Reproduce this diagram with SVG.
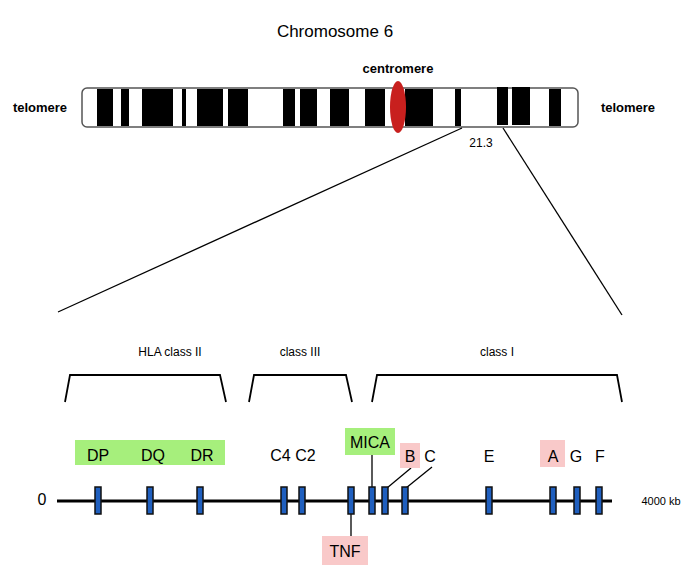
<svg xmlns="http://www.w3.org/2000/svg" width="700" height="582" viewBox="0 0 700 582">
<style>
text{font-family:"Liberation Sans",Arial,sans-serif;fill:#000}
.band{fill:#000}
.gene{fill:#1f5fbf;stroke:#111;stroke-width:1.5}
.ln{stroke:#000;stroke-width:1.3;fill:none}
.br{stroke:#000;stroke-width:1.8;fill:none}
.axis{stroke:#000;stroke-width:3}
.g{fill:#a6ef7c}.p{fill:#f9c9c9}
</style>
<rect width="700" height="582" fill="#fff"/>
<text x="335" y="37" font-size="17" text-anchor="middle">Chromosome 6</text>
<g id="chromosome">
<rect x="82" y="88" width="496" height="39" rx="5" fill="#fff" stroke="#555" stroke-width="1.5"/>
<rect class="band" x="97" y="89" width="16" height="37"/>
<rect class="band" x="121" y="89" width="8" height="37"/>
<rect class="band" x="142" y="89" width="31" height="37"/>
<rect class="band" x="182" y="89" width="4" height="37"/>
<rect class="band" x="197" y="89" width="26" height="37"/>
<rect class="band" x="228" y="89" width="20" height="37"/>
<rect class="band" x="283" y="89" width="12" height="37"/>
<rect class="band" x="300" y="89" width="17" height="37"/>
<rect class="band" x="330" y="89" width="19" height="37"/>
<rect class="band" x="365" y="89" width="20" height="37"/>
<rect class="band" x="405" y="89" width="28" height="37"/>
<rect class="band" x="455" y="89" width="6" height="37"/>
<rect class="band" x="497" y="87" width="11" height="38"/>
<rect class="band" x="512" y="87" width="18" height="38"/>
<rect class="band" x="549" y="89" width="12" height="37"/>
<ellipse cx="398" cy="107" rx="8" ry="26" fill="#c8201e"/>
</g>
<text x="398" y="73" font-size="13" font-weight="bold" text-anchor="middle">centromere</text>
<text x="40" y="112" font-size="13" font-weight="bold" text-anchor="middle">telomere</text>
<text x="628" y="112" font-size="13" font-weight="bold" text-anchor="middle">telomere</text>
<text x="481" y="147" font-size="12" text-anchor="middle">21.3</text>
<g id="connectors">
<line class="ln" x1="462" y1="128" x2="58" y2="312"/>
<line class="ln" x1="503" y1="128" x2="622" y2="315"/>
<path class="br" d="M65 402 L70 375 H220 L226 402"/>
<path class="br" d="M249 402 L254 375 H346 L352 402"/>
<path class="br" d="M372 402 L377 375 H617 L622 402"/>
<line class="axis" x1="57" y1="501" x2="612" y2="501"/>
<line class="ln" x1="372" y1="455" x2="372" y2="487"/>
<line class="ln" x1="411" y1="468" x2="387" y2="488"/>
<line class="ln" x1="432" y1="467" x2="406" y2="488"/>
<line class="ln" x1="351" y1="514" x2="351" y2="537"/>
</g>
<text x="170" y="356" font-size="12" text-anchor="middle">HLA class II</text>
<text x="300" y="356" font-size="12" text-anchor="middle">class III</text>
<text x="497" y="356" font-size="12" text-anchor="middle">class I</text>
<g id="labels" font-size="16">
<rect class="g" x="75" y="440" width="150" height="25"/>
<rect class="g" x="345" y="428" width="50" height="27"/>
<rect class="p" x="400" y="443" width="20" height="25"/>
<rect class="p" x="540" y="440" width="25" height="27"/>
<rect class="p" x="322" y="536" width="46" height="29"/>
<text x="98" y="461" text-anchor="middle">DP</text>
<text x="153" y="461" text-anchor="middle">DQ</text>
<text x="202" y="461" text-anchor="middle">DR</text>
<text x="293" y="461" text-anchor="middle">C4 C2</text>
<text x="370" y="448" text-anchor="middle">MICA</text>
<text x="410" y="462" text-anchor="middle">B</text>
<text x="430" y="462" text-anchor="middle">C</text>
<text x="489" y="462" text-anchor="middle">E</text>
<text x="553" y="462" text-anchor="middle">A</text>
<text x="576" y="462" text-anchor="middle">G</text>
<text x="600" y="462" text-anchor="middle">F</text>
<text x="345" y="557" text-anchor="middle">TNF</text>
<text x="42" y="505" text-anchor="middle">0</text>
<text x="661" y="505" font-size="11" text-anchor="middle">4000 kb</text>
</g>
<g id="genes">
<rect class="gene" x="95" y="487" width="6" height="27"/>
<rect class="gene" x="147" y="487" width="6" height="27"/>
<rect class="gene" x="197" y="487" width="6" height="27"/>
<rect class="gene" x="281" y="487" width="6" height="27"/>
<rect class="gene" x="299" y="487" width="6" height="27"/>
<rect class="gene" x="348" y="487" width="6" height="27"/>
<rect class="gene" x="369" y="487" width="6" height="27"/>
<rect class="gene" x="382" y="487" width="6" height="27"/>
<rect class="gene" x="402" y="487" width="6" height="27"/>
<rect class="gene" x="486" y="487" width="6" height="27"/>
<rect class="gene" x="550" y="487" width="6" height="27"/>
<rect class="gene" x="574" y="487" width="6" height="27"/>
<rect class="gene" x="596" y="487" width="6" height="27"/>
</g>
</svg>
